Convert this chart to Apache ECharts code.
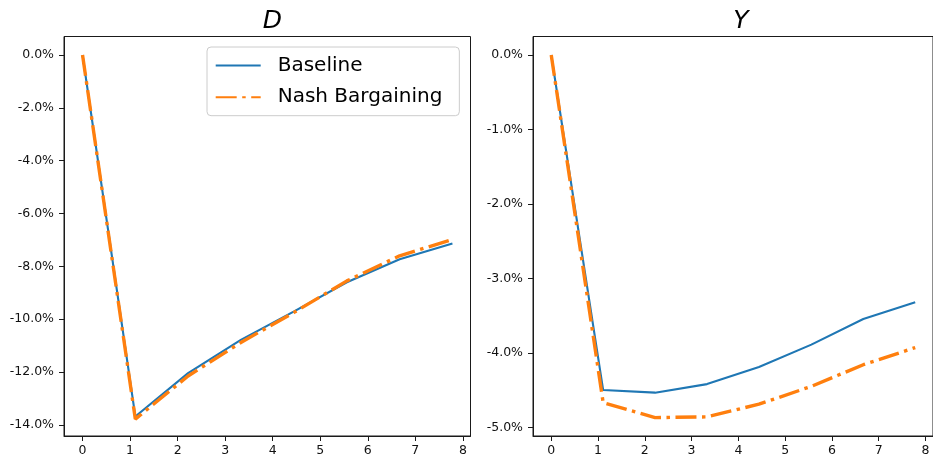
<!DOCTYPE html>
<html>
<head>
<meta charset="utf-8">
<script src="https://cdn.jsdelivr.net/npm/echarts@6/dist/echarts.min.js"></script>
<style>
html,body{margin:0;padding:0;background:#fff;}
#c{width:933px;height:457px;}
</style>
</head>
<body>
<div id="c"></div>
<script>
// Data
const xVals = [0, 1.11, 2.22, 3.33, 4.44, 5.56, 6.67, 7.78];
const dBaseline = [0, -13.68, -12.04, -10.78, -9.71, -8.60, -7.73, -7.13];
const dNash = [0, -13.78, -12.15, -10.88, -9.75, -8.55, -7.60, -6.98];
const yBaseline = [0, -4.50, -4.535, -4.42, -4.19, -3.89, -3.545, -3.32];
const yNash = [0, -4.67, -4.87, -4.86, -4.69, -4.45, -4.16, -3.93];
const xTicks = [0, 1, 2, 3, 4, 5, 6, 7, 8];
const dTicks = [0, -2, -4, -6, -8, -10, -12, -14];
const yTicks = [0, -1, -2, -3, -4, -5];
const panelTitles = ['D', 'Y'];
const seriesNames = ['Baseline', 'Nash Bargaining'];

const FONT = 'DejaVu Sans';
const BLUE = '#1f77b4';
const ORANGE = '#ff7f0e';
const FRAME = '#1a1a1a';

const pairs = (ys) => xVals.map((x, i) => [x, ys[i]]);

function xAxis(gi) {
  return {
    type: 'value', gridIndex: gi, min: -0.39, max: 8.16, position: 'bottom',
    axisLine: { show: true, onZero: false, lineStyle: { color: FRAME, width: 1 } },
    splitLine: { show: false },
    axisTick: { show: true, inside: false, length: 5, lineStyle: { color: FRAME, width: 1 }, customValues: xTicks },
    axisLabel: { customValues: xTicks, margin: 8, color: '#111', fontSize: 12.5, fontFamily: FONT, formatter: (v) => String(v) }
  };
}
function yAxis(gi, min, max, ticks) {
  return {
    type: 'value', gridIndex: gi, min: min, max: max, position: 'left',
    axisLine: { show: true, onZero: false, lineStyle: { color: FRAME, width: 1 } },
    splitLine: { show: false },
    axisTick: { show: true, inside: false, length: 5, lineStyle: { color: FRAME, width: 1 }, customValues: ticks },
    axisLabel: { customValues: ticks, margin: 10, color: '#111', fontSize: 12.5, fontFamily: FONT, formatter: (v) => v.toFixed(1) + '%' }
  };
}

const baseLine = { color: BLUE, width: 2.1, type: 'solid' };
const nashLine = { color: ORANGE, width: 3.4, type: [21, 5.5, 3.5, 5.5] };

const chart = echarts.init(document.getElementById('c'), null, { renderer: 'canvas' });
chart.setOption({
  animation: false,
  backgroundColor: '#fff',
  title: [
    { text: panelTitles[0], left: 267.5, top: 4, textAlign: 'center',
      textStyle: { fontFamily: FONT, fontStyle: 'italic', fontWeight: 'normal', fontSize: 25, color: '#000' } },
    { text: panelTitles[1], left: 736, top: 4, textAlign: 'center',
      textStyle: { fontFamily: FONT, fontStyle: 'italic', fontWeight: 'normal', fontSize: 25, color: '#000' } }
  ],
  legend: {
    data: seriesNames,
    left: 207, top: 47,
    orient: 'vertical',
    itemWidth: 45, itemHeight: 14, itemGap: 7.7,
    padding: [6.5, 17, 6.5, 7.7],
    backgroundColor: '#fff',
    borderColor: '#cccccc', borderWidth: 1, borderRadius: 4,
    itemStyle: { color: 'rgba(0,0,0,0)', borderWidth: 0, opacity: 0 },
    textStyle: { fontFamily: FONT, fontSize: 20, color: '#000', lineHeight: 24, padding: [0, 0, 0, 12] }
  },
  grid: [
    { left: 64, top: 36.5, width: 406.5, height: 399.5, show: true, borderColor: FRAME, borderWidth: 1, backgroundColor: 'transparent' },
    { left: 533, top: 36.5, width: 406.5, height: 399.5, show: true, borderColor: FRAME, borderWidth: 1, backgroundColor: 'transparent' }
  ],
  xAxis: [xAxis(0), xAxis(1)],
  yAxis: [yAxis(0, -14.42, 0.70, dTicks), yAxis(1, -5.117, 0.248, yTicks)],
  series: [
    { name: seriesNames[0], type: 'line', xAxisIndex: 0, yAxisIndex: 0, data: pairs(dBaseline), symbol: 'none', lineStyle: baseLine, itemStyle: { color: BLUE }, z: 2 },
    { name: seriesNames[1], type: 'line', xAxisIndex: 0, yAxisIndex: 0, data: pairs(dNash), symbol: 'none', lineStyle: nashLine, itemStyle: { color: ORANGE }, z: 3 },
    { name: seriesNames[0], type: 'line', xAxisIndex: 1, yAxisIndex: 1, data: pairs(yBaseline), symbol: 'none', lineStyle: baseLine, itemStyle: { color: BLUE }, z: 2 },
    { name: seriesNames[1], type: 'line', xAxisIndex: 1, yAxisIndex: 1, data: pairs(yNash), symbol: 'none', lineStyle: nashLine, itemStyle: { color: ORANGE }, z: 3 }
  ]
});
</script>
</body>
</html>
